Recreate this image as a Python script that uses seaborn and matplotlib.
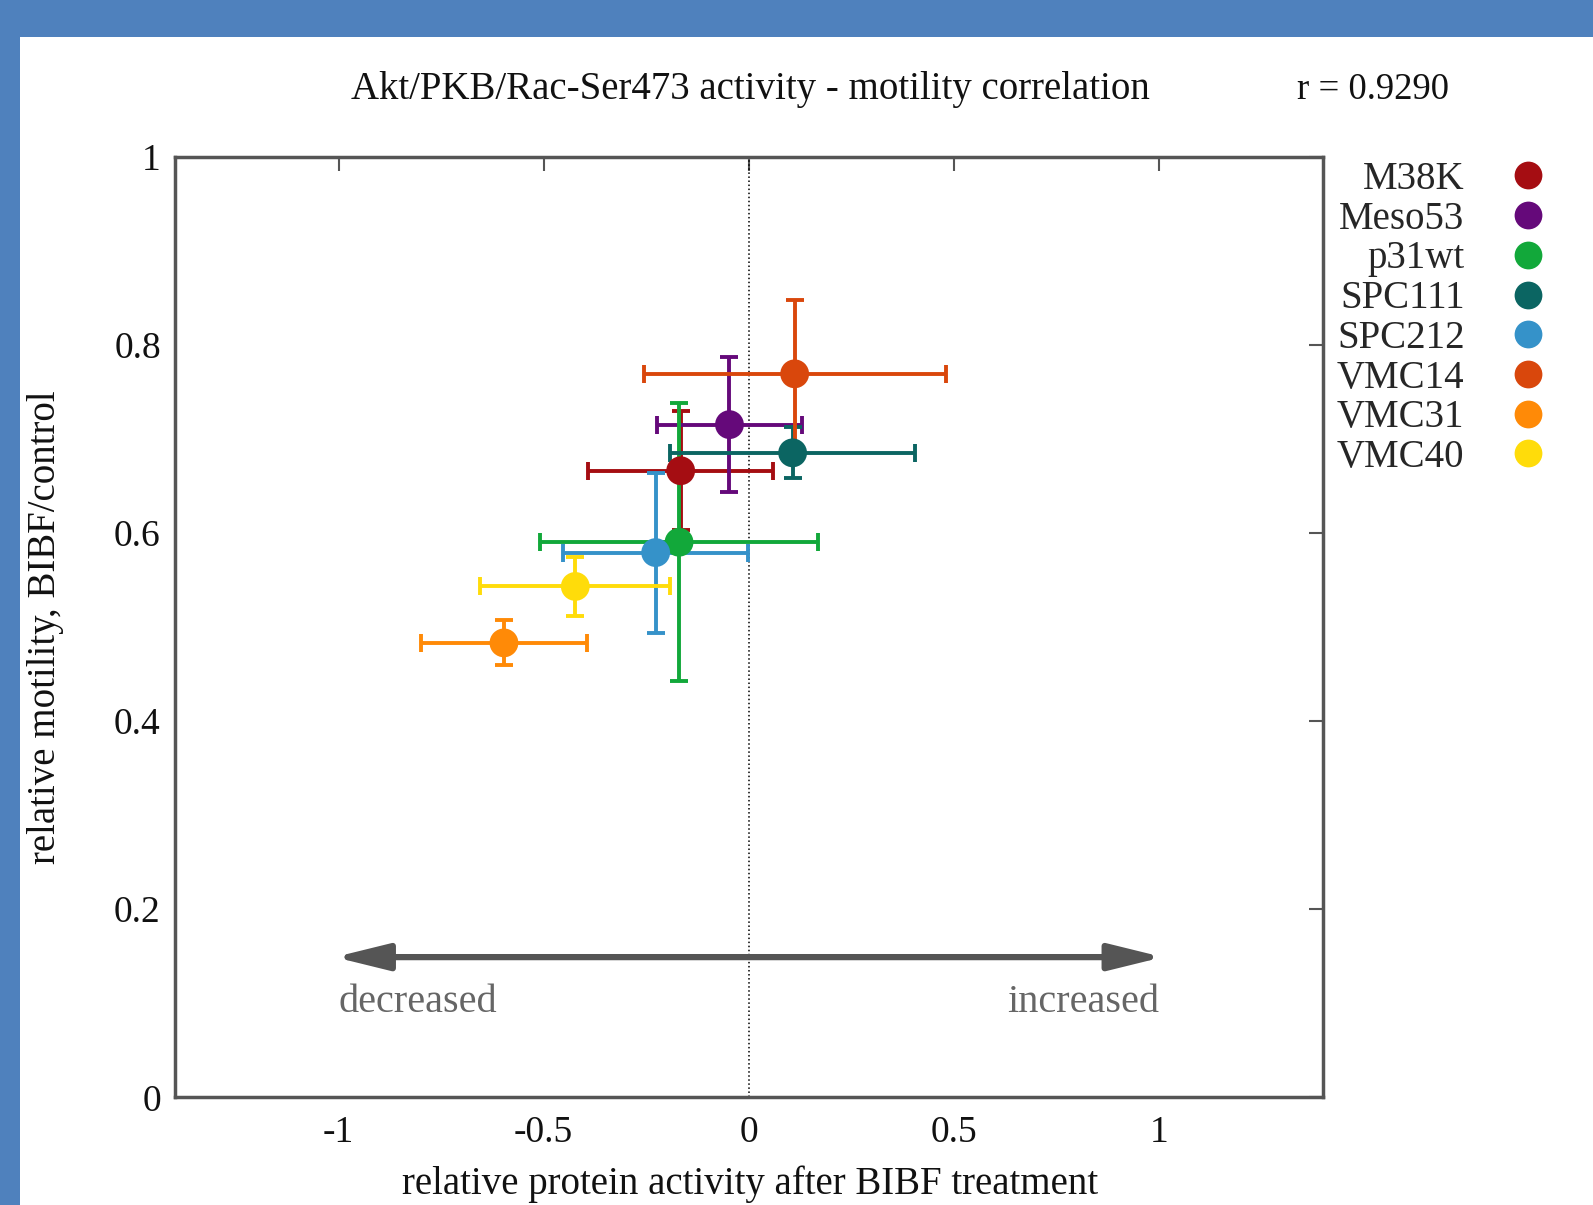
import pandas as pd
import numpy as np
import matplotlib
matplotlib.use("Agg")
import matplotlib.pyplot as plt
from matplotlib.lines import Line2D
from matplotlib.patches import Rectangle
import seaborn as sns

# ── data ─────────────────────────────────────────────────────────────────────
cell_lines = ["M38K", "Meso53", "p31wt", "SPC111", "SPC212", "VMC14", "VMC31", "VMC40"]
activity   = [-0.166, -0.047, -0.170, 0.107, -0.227, 0.112, -0.597, -0.423]
activity_err = [0.226, 0.176, 0.339, 0.298, 0.225, 0.368, 0.202, 0.232]
motility   = [0.666, 0.715, 0.590, 0.685, 0.579, 0.769, 0.483, 0.543]
motility_err = [0.063, 0.072, 0.148, 0.027, 0.085, 0.078, 0.024, 0.031]
line_colors = ["#a50d12", "#65097a", "#12a83a", "#0b6562", "#3592c9",
               "#d9470c", "#ff8a07", "#ffdc0a"]

x_ticks = [-1, -0.5, 0, 0.5, 1]
x_tick_labels = ["-1", "-0.5", "0", "0.5", "1"]
y_ticks = [0, 0.2, 0.4, 0.6, 0.8, 1]
y_tick_labels = ["0", "0.2", "0.4", "0.6", "0.8", "1"]

title = "Akt/PKB/Rac-Ser473 activity - motility correlation"
r_text = "r = 0.9290"

df = pd.DataFrame({"line": cell_lines, "x": activity, "xerr": activity_err,
                   "y": motility, "yerr": motility_err})
palette = dict(zip(cell_lines, line_colors))

# ── style ─────────────────────────────────────────────────────────────────────
sns.set_theme(style="white")
plt.rcParams["font.family"] = ["Liberation Serif", "DejaVu Serif"]
FRAME = "#555555"

W, H = 1593, 1205
fig = plt.figure(figsize=(W / 100, H / 100), dpi=100, facecolor="#4F81BD")
# white slide area inside the blue frame
fig.patches.append(Rectangle((20 / W, 0), 1, 1 - 37 / H, transform=fig.transFigure,
                             facecolor="white", edgecolor="none", zorder=-10))

ax = fig.add_axes([174.7 / W, 1 - 1097.3 / H, (1322.8 - 174.7) / W, (1097.3 - 156.5) / H])
ax.set_zorder(2)
ax.set_facecolor("white")

# error bars first, markers on top
for _, row in df.iterrows():
    ax.errorbar(row["x"], row["y"], xerr=row["xerr"], yerr=row["yerr"],
                fmt="none", ecolor=palette[row["line"]], elinewidth=2.8,
                capsize=6.5, capthick=2.8, zorder=2)

sns.scatterplot(data=df, x="x", y="y", hue="line", palette=palette, s=430,
                edgecolor="none", legend=False, zorder=3, ax=ax)

ax.axvline(0, color="black", ls=":", lw=1.1, zorder=1)

# direction arrow
ax.annotate("", xy=(-1.01, 0.149), xytext=(1.01, 0.149),
            arrowprops=dict(arrowstyle="<|-|>,head_length=1.3,head_width=0.32",
                            color="#555555", lw=4.5, mutation_scale=25,
                            shrinkA=0, shrinkB=0))
ax.text(-1, 0.101, "decreased", ha="left", va="center", fontsize=29, color="#666666")
ax.text(1, 0.101, "increased", ha="right", va="center", fontsize=29, color="#666666")

ax.set_xlim(-1.4, 1.4)
ax.set_ylim(0, 1)
ax.set_xticks(x_ticks, x_tick_labels)
ax.set_yticks(y_ticks, y_tick_labels)
ax.set_xlabel("")
ax.set_ylabel("")
ax.tick_params(axis="both", direction="in", length=10, width=1.5, color=FRAME,
               labelsize=27, top=True, right=True, labelcolor="#111111")
ax.tick_params(axis="x", pad=13)
ax.tick_params(axis="y", pad=10)
for sp in ax.spines.values():
    sp.set_color(FRAME)
    sp.set_linewidth(2.5)

# labels and title
fig.text(750 / W, 1 - 90 / H, title, ha="center", va="center", fontsize=28, color="#111111")
fig.text(1373 / W, 1 - 90 / H, r_text, ha="center", va="center", fontsize=26.5, color="#111111")
fig.text(46 / W, 1 - 627 / H, "relative motility, BIBF/control", rotation=90,
         ha="center", va="center", fontsize=28, color="#111111")
fig.text(750 / W, 1 - 1203 / H, "relative protein activity after BIBF treatment",
         ha="center", va="bottom", fontsize=28, color="#111111")

# legend: labels right-aligned, markers on the right
handles = [Line2D([], [], ls="none", marker="o", markersize=20, color=c,
                  markeredgecolor="none") for c in line_colors]
ax.legend(handles, cell_lines, loc="upper right", bbox_to_anchor=(1547 / W, 1 - 161 / H),
          bbox_transform=fig.transFigure, frameon=False, markerfirst=False,
          fontsize=28, handlelength=1.0, handletextpad=1.12, labelspacing=0.07,
          borderpad=0, borderaxespad=0)

fig.savefig("out.png", dpi=100, facecolor=fig.get_facecolor())
